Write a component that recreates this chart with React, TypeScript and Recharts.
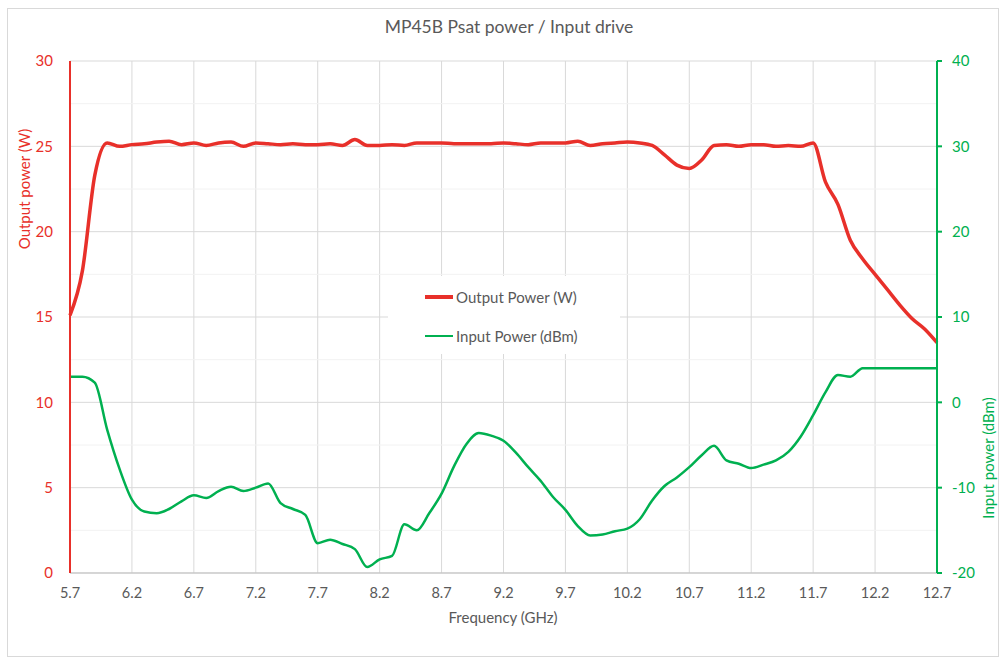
import { LineChart, Line, XAxis, YAxis, CartesianGrid, ReferenceLine, Legend, Label } from 'recharts';

const freqGHz = [
    5.7, 5.8, 5.9, 6.0, 6.1, 6.2, 6.3, 6.4, 6.5, 6.6,
    6.7, 6.8, 6.9, 7.0, 7.1, 7.2, 7.3, 7.4, 7.5, 7.6,
    7.7, 7.8, 7.9, 8.0, 8.1, 8.2, 8.3, 8.4, 8.5, 8.6,
    8.7, 8.8, 8.9, 9.0, 9.1, 9.2, 9.3, 9.4, 9.5, 9.6,
    9.7, 9.8, 9.9, 10.0, 10.1, 10.2, 10.3, 10.4, 10.5, 10.6,
    10.7, 10.8, 10.9, 11.0, 11.1, 11.2, 11.3, 11.4, 11.5, 11.6,
    11.7, 11.8, 11.9, 12.0, 12.1, 12.2, 12.3, 12.4, 12.5, 12.6,
    12.7,
];

const outputPowerW = [
    15.1, 17.7, 23.3, 25.2, 25.0, 25.1, 25.15, 25.25, 25.3, 25.1,
    25.2, 25.05, 25.2, 25.25, 25.0, 25.2, 25.15, 25.1, 25.15, 25.1,
    25.1, 25.15, 25.05, 25.4, 25.05, 25.05, 25.1, 25.05, 25.2, 25.2,
    25.2, 25.15, 25.15, 25.15, 25.15, 25.2, 25.15, 25.1, 25.2, 25.2,
    25.2, 25.3, 25.05, 25.15, 25.2, 25.25, 25.2, 25.05, 24.5, 23.9,
    23.7, 24.2, 25.05, 25.1, 25.0, 25.1, 25.1, 25.0, 25.05, 25.0,
    25.2, 22.9, 21.6, 19.5, 18.4, 17.5, 16.6, 15.7, 14.9, 14.3,
    13.5,
];

const inputPowerDbm = [
    3.0, 3.0, 2.3, -3.2, -7.8, -11.4, -12.8, -13.0, -12.5, -11.6,
    -10.9, -11.2, -10.4, -9.9, -10.4, -10.0, -9.5, -11.8, -12.5, -13.2,
    -16.5, -16.1, -16.6, -17.2, -19.3, -18.4, -18.0, -14.3, -15.0, -13.0,
    -10.7, -7.5, -4.9, -3.6, -3.9, -4.5, -5.9, -7.6, -9.2, -11.1,
    -12.6, -14.5, -15.6, -15.5, -15.1, -14.8, -13.7, -11.5, -9.8, -8.8,
    -7.6, -6.2, -5.1, -6.8, -7.2, -7.7, -7.3, -6.8, -5.8, -4.0,
    -1.5, 1.2, 3.2, 3.0, 4.0, 4.0, 4.0, 4.0, 4.0, 4.0,
    4.0,
];

const seriesNames = ['Output Power (W)', 'Input Power (dBm)'];
const xTicks = [5.7, 6.2, 6.7, 7.2, 7.7, 8.2, 8.7, 9.2, 9.7, 10.2, 10.7, 11.2, 11.7, 12.2, 12.7];
const leftTicks = [0, 5, 10, 15, 20, 25, 30];
const rightTicks = [-20, -10, 0, 10, 20, 30, 40];
const minorGridW = [2.5, 7.5, 12.5, 17.5, 22.5, 27.5];

const data = freqGHz.map((f, i) => ({ f, out: outputPowerW[i], inp: inputPowerDbm[i] }));

const RED = '#e8302a';
const GREEN = '#00b050';
const GREY = '#595959';

function LegendBox({ payload }: any) {
    const items = seriesNames
        .map((n) => (payload || []).find((p: any) => p.value === n))
        .filter(Boolean);
    return (
        <div style={{ position: 'relative', width: 232, height: 78, background: '#fff' }}>
            {items.map((p: any, i: number) => (
                <div key={p.value} style={{ position: 'absolute', left: 37, top: i === 0 ? 10 : 49, height: 22, display: 'flex', alignItems: 'center' }}>
                    <div style={{ width: 28, height: i === 0 ? 4 : 2.5, background: p.color }} />
                    <span style={{ marginLeft: 3, fontSize: 15, color: GREY }}>{p.value}</span>
                </div>
            ))}
        </div>
    );
}

export default function App() {
    return (
        <div style={{ position: 'absolute', left: 0, top: 0, width: 1001, height: 657, fontFamily: 'Lato, "Open Sans", sans-serif', background: '#fff' }}>
            <div style={{ position: 'absolute', left: 7, top: 8, width: 990, height: 647, border: '1px solid #d9d9d9' }} />
            <div style={{ position: 'absolute', left: 0, top: 16, width: 1018, textAlign: 'center', fontSize: 17.5, color: GREY }}>
                MP45B Psat power / Input drive
            </div>
            <div style={{ position: 'absolute', left: 0, top: 0 }}>
                <LineChart width={1001} height={657} data={data} margin={{ top: 61, right: 10, left: 10, bottom: 44 }}>
                    <CartesianGrid yAxisId="left" stroke="#d9d9d9" />
                    <XAxis
                        dataKey="f"
                        type="number"
                        domain={[5.7, 12.7]}
                        ticks={xTicks}
                        tickFormatter={(v: number) => v.toFixed(1)}
                        height={40}
                        axisLine={{ stroke: '#bfbfbf' }}
                        tickLine={false}
                        tickSize={6}
                        tickMargin={9}
                        tick={{ fill: GREY, fontSize: 14.5 }}
                    >
                        <Label content={() => (
                            <text x={503} y={623} textAnchor="middle" fill={GREY} fontSize={15}>Frequency (GHz)</text>
                        )} />
                    </XAxis>
                    <YAxis
                        yAxisId="left"
                        domain={[0, 30]}
                        ticks={leftTicks}
                        width={60}
                        axisLine={{ stroke: RED, strokeWidth: 2 }}
                        tickLine={false}
                        tickSize={6}
                        tickMargin={11}
                        tick={{ fill: RED, fontSize: 15 }}
                    >
                        <Label content={() => (
                            <text x={30} y={189} transform="rotate(-90 30 189)" textAnchor="middle" fill={RED} fontSize={15}>Output power (W)</text>
                        )} />
                    </YAxis>
                    <YAxis
                        yAxisId="right"
                        orientation="right"
                        domain={[-20, 40]}
                        ticks={rightTicks}
                        width={54}
                        axisLine={{ stroke: GREEN, strokeWidth: 2 }}
                        tickLine={{ stroke: GREEN, strokeWidth: 2 }}
                        tickSize={5}
                        tickMargin={10}
                        tick={{ fill: GREEN, fontSize: 15 }}
                    >
                        <Label content={() => (
                            <text x={994} y={458} transform="rotate(-90 994 458)" textAnchor="middle" fill={GREEN} fontSize={15}>Input power (dBm)</text>
                        )} />
                    </YAxis>
                    {minorGridW.map((v) => (
                        <ReferenceLine key={v} yAxisId="left" y={v} stroke="#f2f2f2" />
                    ))}
                    <Legend
                        layout="horizontal"
                        verticalAlign="middle"
                        align="center"
                        content={<LegendBox />}
                        wrapperStyle={{ position: 'absolute', left: 388, top: 276, width: 232, height: 78 }}
                    />
                    <Line
                        yAxisId="left"
                        type="monotone"
                        dataKey="out"
                        name="Output Power (W)"
                        stroke={RED}
                        strokeWidth={3.5}
                        dot={false}
                        isAnimationActive={false}
                    />
                    <Line
                        yAxisId="right"
                        type="monotone"
                        dataKey="inp"
                        name="Input Power (dBm)"
                        stroke={GREEN}
                        strokeWidth={2.5}
                        dot={false}
                        isAnimationActive={false}
                    />
                </LineChart>
            </div>
        </div>
    );
}
